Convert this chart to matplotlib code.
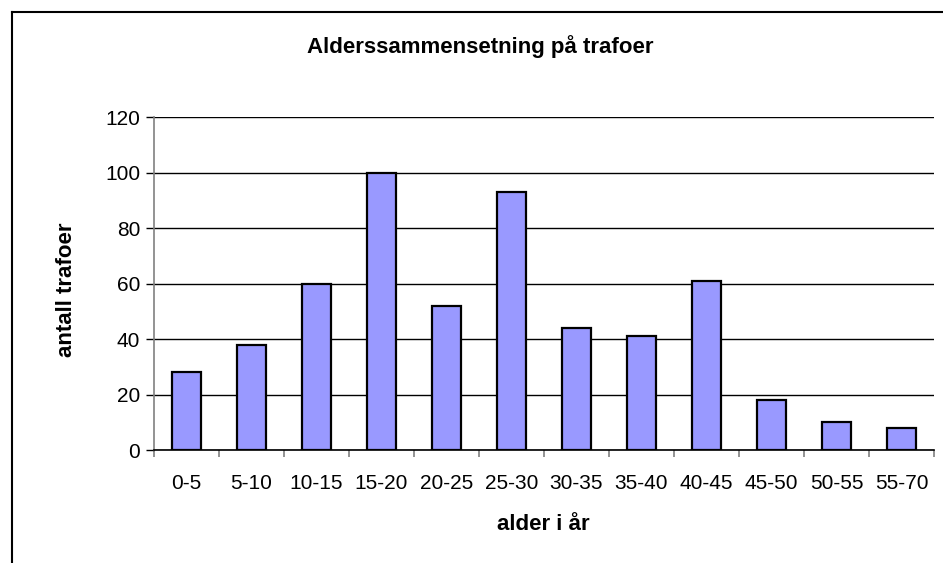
import numpy as np
import matplotlib
matplotlib.use('Agg')
import matplotlib.pyplot as plt
from matplotlib.lines import Line2D

# aldersgrupper og antall trafoer
kategorier = ['0-5', '5-10', '10-15', '15-20', '20-25', '25-30',
              '30-35', '35-40', '40-45', '45-50', '50-55', '55-70']
antall = [28, 38, 60, 100, 52, 93, 44, 41, 61, 18, 10, 8]
y_ticks = [0, 20, 40, 60, 80, 100, 120]

plt.rcParams['font.family'] = ['Liberation Sans', 'DejaVu Sans']

W, H = 943, 563
fig = plt.figure(figsize=(W / 100, H / 100), dpi=100)
ax = fig.add_axes([154 / W, 1 - 450 / H, 780 / W, 333 / H])

x = np.arange(len(kategorier))
ax.bar(x, antall, width=0.45, color='#9999FF', edgecolor='black', linewidth=1.6, zorder=3)

ax.set_xlim(-0.5, len(kategorier) - 0.5)
ax.set_ylim(0, 120)
ax.set_yticks(y_ticks)
ax.set_yticklabels([str(v) for v in y_ticks], fontsize=15)
ax.yaxis.grid(True, color='black', linewidth=1.0, zorder=0)

# kategori-etiketter i midten, tick-streker mellom gruppene
ax.set_xticks(x)
ax.set_xticklabels(kategorier, fontsize=15)
ax.tick_params(axis='x', length=0, pad=17)
ax.set_xticks(np.arange(len(kategorier) + 1) - 0.5, minor=True)
ax.tick_params(axis='x', which='minor', length=5, direction='out', color='#808080', width=1.2)
ax.tick_params(axis='y', length=6, direction='out', width=1.0, pad=4)

for side in ['top', 'right']:
    ax.spines[side].set_visible(False)
ax.spines['left'].set_color('#808080')
ax.spines['left'].set_linewidth(1.2)
ax.spines['bottom'].set_color('black')
ax.spines['bottom'].set_linewidth(1.2)

fig.text(480 / W, 1 - 47 / H, 'Alderssammensetning på trafoer', ha='center', va='center',
         fontsize=16, fontweight='bold')
fig.text(67 / W, 1 - 290 / H, 'antall trafoer', ha='center', va='center', rotation=90,
         fontsize=16, fontweight='bold')
fig.text(543 / W, 1 - 525 / H, 'alder i år', ha='center', va='center',
         fontsize=16, fontweight='bold')

# ytre ramme (kuttet nederst og til høyre)
fig.add_artist(Line2D([11.5 / W, 11.5 / W], [0, 1 - 12 / H], color='black', linewidth=1.5))
fig.add_artist(Line2D([11.5 / W, 1], [1 - 12 / H, 1 - 12 / H], color='black', linewidth=1.5))

fig.savefig('out.png', dpi=100)
